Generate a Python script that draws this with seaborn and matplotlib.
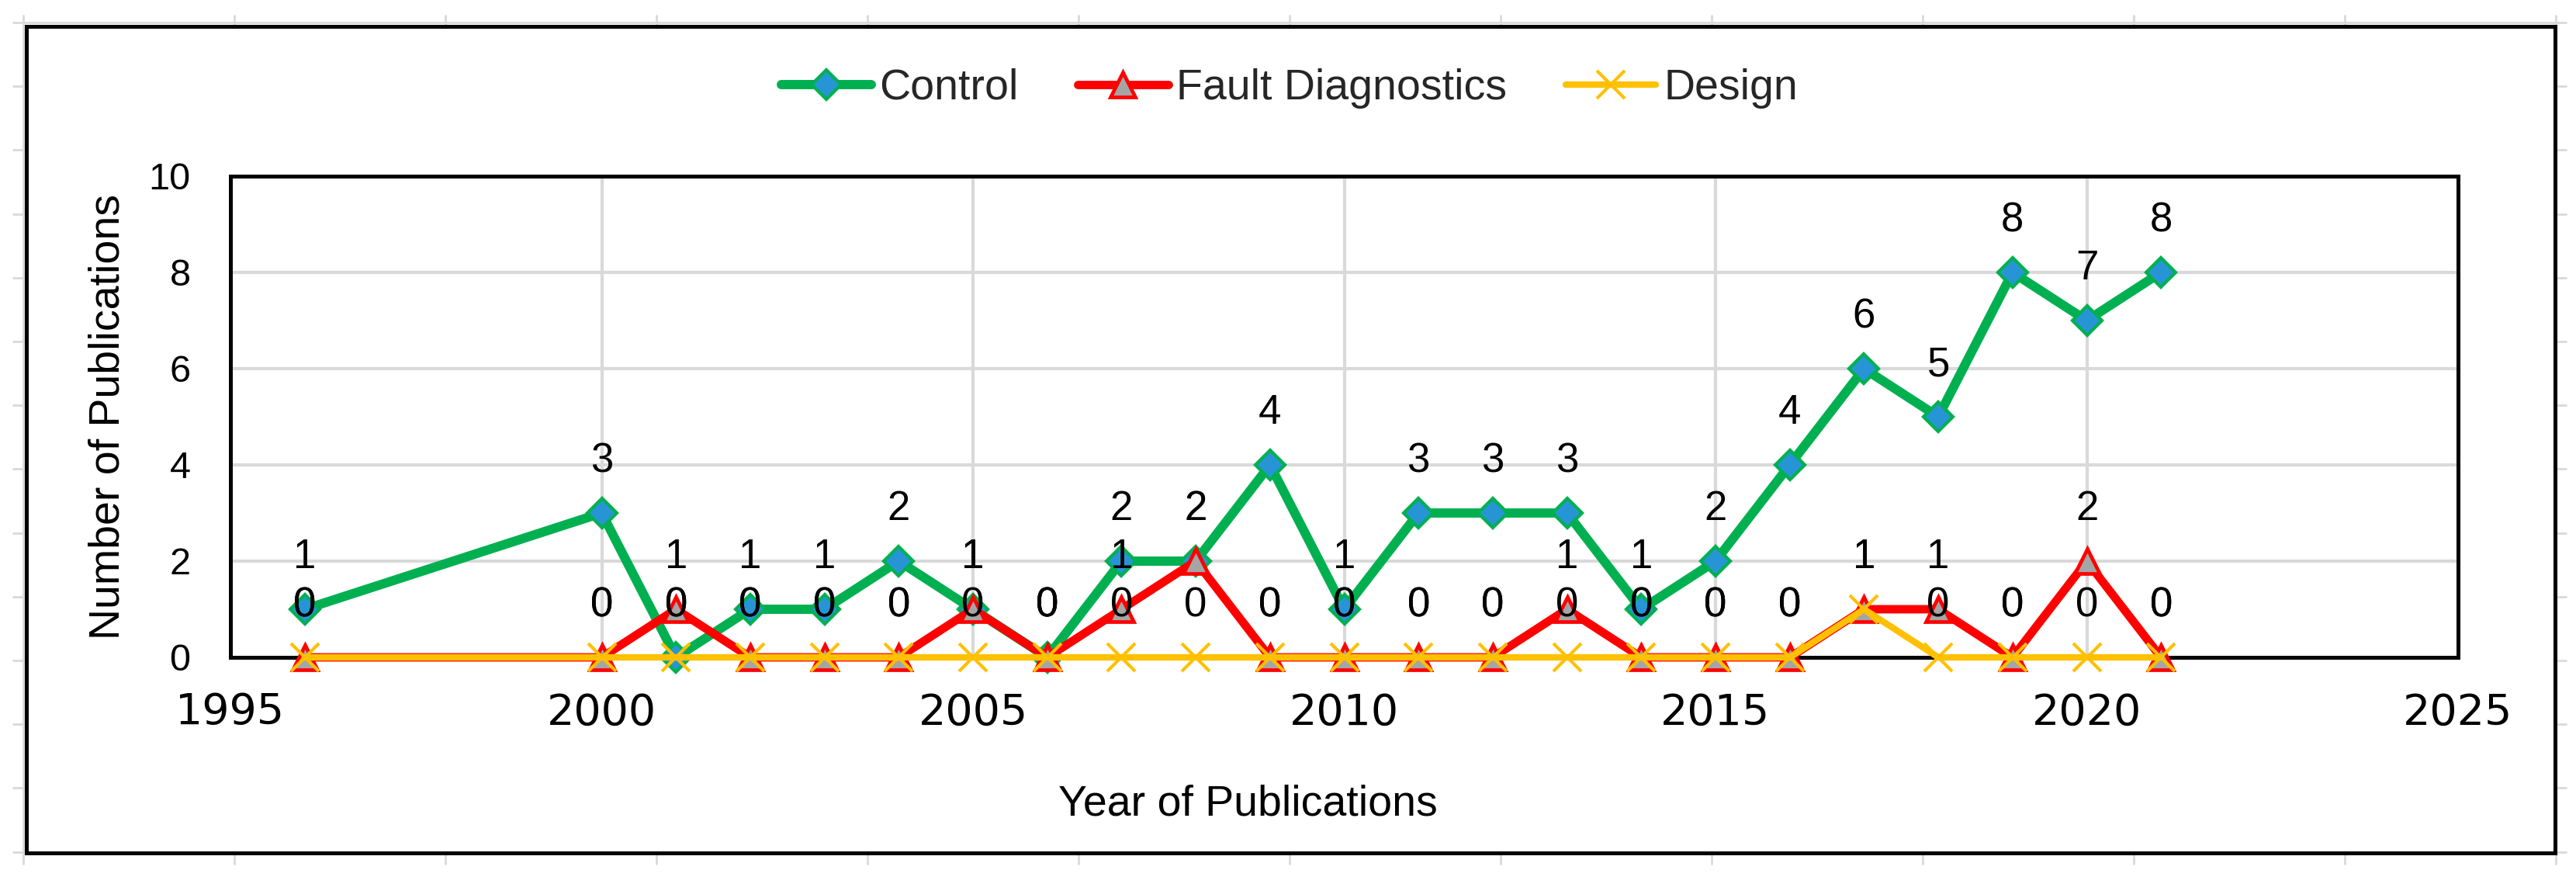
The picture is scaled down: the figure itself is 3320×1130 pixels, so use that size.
"""
Publications per year by topic (Control / Fault Diagnostics / Design),
redrawn in the style of the Excel chart it came from.
"""

import matplotlib
matplotlib.use("Agg")

import matplotlib.pyplot as plt
import numpy as np
import seaborn as sns
from matplotlib.lines import Line2D
from matplotlib.patches import Rectangle

# ---------------------------------------------------------------------------
# Data
# ---------------------------------------------------------------------------
years = [1996, 2000, 2001, 2002, 2003, 2004, 2005, 2006, 2007, 2008, 2009,
         2010, 2011, 2012, 2013, 2014, 2015, 2016, 2017, 2018, 2019, 2020, 2021]
control = [1, 3, 0, 1, 1, 2, 1, 0, 2, 2, 4, 1, 3, 3, 3, 1, 2, 4, 6, 5, 8, 7, 8]
fault_diag = [0, 0, 1, 0, 0, 0, 1, 0, 1, 2, 0, 0, 0, 0, 1, 0, 0, 0, 1, 1, 0, 2, 0]
design = [0, 0, 0, 0, 0, 0, 0, 0, 0, 0, 0, 0, 0, 0, 0, 0, 0, 0, 1, 0, 0, 0, 0]

x_ticks = [1995, 2000, 2005, 2010, 2015, 2020, 2025]
y_ticks = [0, 2, 4, 6, 8, 10]

# ---------------------------------------------------------------------------
# Style
# ---------------------------------------------------------------------------
W, H, DPI = 3320, 1130, 100
GRID = "#D9D9D9"

sns.set_theme(style="white")
plt.rcParams["font.family"] = ["Liberation Sans", "DejaVu Sans"]

series = [
    dict(name="Control", values=control, color="#00B050", marker="D",
         ms=19, mfc="#2795D5", mec="#00B050", mew=3.0, lw=8.6),
    dict(name="Fault Diagnostics", values=fault_diag, color="#FF0000", marker="^",
         ms=23, mfc="#A5A5A5", mec="#FF0000", mew=3.4, lw=7.8),
    dict(name="Design", values=design, color="#FFC000", marker="x",
         ms=26, mfc="#FFC000", mec="#FFC000", mew=3.0, lw=6.0),
]


def px(x, y):
    """Pixel position (from top-left) -> figure fraction."""
    return x / W, 1 - y / H


fig = plt.figure(figsize=(W / DPI, H / DPI), dpi=DPI)
fig.patch.set_facecolor("white")

# faint spreadsheet cell grid peeking out around the chart object
for k in range(13):
    x0, _ = px(30 + 272 * k, 0)
    fig.add_artist(Line2D([x0, x0], [px(0, 1113)[1], px(0, 20)[1]],
                          transform=fig.transFigure, color=GRID, lw=2, zorder=-3))
for k in range(14):
    _, y0 = px(0, 29 + 82.2 * k)
    fig.add_artist(Line2D([px(17, 0)[0], px(3307, 0)[0]], [y0, y0],
                          transform=fig.transFigure, color=GRID, lw=2, zorder=-3))

# chart object: white box with black border
fx0, fy1 = px(34, 34)
fx1, fy0 = px(3293, 1099)
fig.add_artist(Rectangle((fx0, fy0), fx1 - fx0, fy1 - fy0, transform=fig.transFigure,
                         facecolor="white", edgecolor="black", lw=3.6, zorder=-2))

ax = fig.add_axes([297 / W, 1 - 847 / H, (3168 - 297) / W, (847 - 227) / H])
ax.set_facecolor("white")

for s in series:
    sns.lineplot(x=years, y=s["values"], ax=ax, color=s["color"], lw=s["lw"],
                 marker=s["marker"], markersize=s["ms"], markerfacecolor=s["mfc"],
                 markeredgecolor=s["mec"], markeredgewidth=s["mew"],
                 label=s["name"], legend=False, clip_on=False, zorder=3)

# data labels on top of everything
for s in series:
    for xv, yv in zip(years, s["values"]):
        ax.annotate(f"{yv}", (xv, yv), xytext=(0, 38), textcoords="offset points",
                    ha="center", va="baseline", fontsize=38, color="black",
                    annotation_clip=False, zorder=6)

ax.set_xlim(1995, 2025)
ax.set_ylim(0, 10)
ax.set_xticks(x_ticks)
ax.set_yticks(y_ticks)
ax.set_xticklabels([str(t) for t in x_ticks], family="DejaVu Sans", fontsize=40)
ax.set_yticklabels([str(t) for t in y_ticks], fontsize=35)
ax.tick_params(axis="x", length=0, pad=32, colors="black")
ax.tick_params(axis="y", length=0, pad=37, colors="black")
ax.grid(True, color=GRID, lw=3.0)
ax.set_axisbelow(True)
for sp in ax.spines.values():
    sp.set_visible(True)
    sp.set_color("black")
    sp.set_linewidth(3.6)
    sp.set_zorder(2.5)

ax.set_xlabel("Year of Publications", fontsize=40, color="black", va="center")
ax.xaxis.set_label_coords(0.4566, -0.306)
ax.set_ylabel("Number of Publications", fontsize=40, color="black", va="center")
ax.yaxis.set_label_coords(-0.055, 0.5)

handles = ax.get_lines()[:len(series)]
fig.legend(handles, [s["name"] for s in series], loc="center",
           bbox_to_anchor=px(1662, 114), ncol=3, frameon=False, fontsize=40,
           handlelength=2.1, handletextpad=0.18, columnspacing=1.37,
           borderaxespad=0)

fig.savefig("out.png", dpi=DPI, facecolor="white")
plt.close(fig)
